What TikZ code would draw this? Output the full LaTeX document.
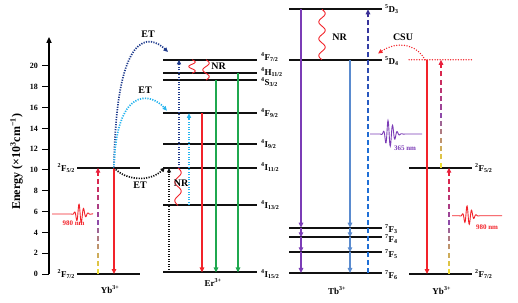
\documentclass[tikz,border=0pt]{standalone}
\usepackage{fontspec}
\setmainfont{Liberation Serif}
\usetikzlibrary{arrows.meta}
\definecolor{ink}{HTML}{111111}
\definecolor{laser}{HTML}{F2232A}
\definecolor{emgreen}{HTML}{1FA84F}
\definecolor{etnavy}{HTML}{1E3A8C}
\definecolor{etcyan}{HTML}{27B4EE}
\definecolor{tbviolet}{HTML}{7B3CB6}
\definecolor{tbblue}{HTML}{5A8BCF}
\definecolor{pumpyellow}{HTML}{EEDD33}
\definecolor{pumpviolet}{HTML}{8E4AA8}
\definecolor{pumpred}{HTML}{E8203C}
\definecolor{uvblue}{HTML}{1F6FD6}
\definecolor{uvnavy}{HTML}{3A2F96}
\tikzset{level/.style={line width=1.9pt,ink},
emit/.style={-{Triangle[length=5pt,width=4.5pt]},line width=1.8pt},
etpath/.style={-{Triangle[length=4.5pt,width=4pt]},line width=1.7pt,dash pattern=on 1.2pt off 1.3pt},
redpath/.style={laser,line width=1.5pt,line cap=round,dash pattern=on 0pt off 2.6pt},
nrline/.style={laser,line width=0.9pt},
lab/.style={font=\bfseries\fontsize{9}{10}\selectfont,inner sep=1pt},
tag/.style={font=\bfseries\fontsize{10}{11}\selectfont,inner sep=1pt},
nm/.style={font=\bfseries\fontsize{7}{8}\selectfont,inner sep=0pt}}
\newcommand\term[3]{\textsuperscript{#1}#2\textsubscript{#3}}
% dashed pump arrow with a colour run: x, from, to, bottom, middle, top colour
\newcommand\pumpline[6]{%
  \pgfmathtruncatemacro\nd{round(abs(#3-#2)*1.3)}%
  \pgfmathtruncatemacro\nm{\nd-1}%
  \foreach \i in {0,...,\nm}{%
    \pgfmathsetmacro\ya{#2+(#3-#2)*\i/\nd}%
    \pgfmathsetmacro\yb{#2+(#3-#2)*(\i+0.62)/\nd}%
    \pgfmathtruncatemacro\pa{min(100,round(200*\i/\nm))}%
    \pgfmathtruncatemacro\pb{max(0,round(200*\i/\nm)-100)}%
    \colorlet{dashc}{#6!\pb!#5!\pa!#4}%
    \draw[line width=1.8pt,dashc] (#1,\ya) -- (#1,\yb);}%
  \draw[emit,#6] (#1,#3-0.45) -- (#1,#3);}
% vertical non-radiative wave: x, top, bottom, periods
\newcommand\nrwave[4]{%
  \draw[nrline] plot[domain=0:1,samples=70,smooth] ({#1+3.2*sin(360*#4*\x)},{#2-(#2-#3)*\x});}
% photon packet: colour, x0, x1, centre, y, amplitude, tail width
\newcommand\photon[7]{%
  \draw[#1,line width=0.9pt] plot[domain=#2:#3,samples=160,smooth]
    (\x,{#5+#6*exp(-((\x-#4)/((\x<#4)*3.5+(\x>=#4)*#7))^2)*sin(360*(\x-#4)/4.6+90)});}
\begin{document}
\begin{tikzpicture}[x=1pt,y=10.4pt]
\useasboundingbox (0,-2.6923) rectangle (518,26.346);
% axis
\draw[-{Triangle[length=6pt,width=5pt]},line width=1.8pt] (49,0) -- (49,22.8);
\foreach \e in {0,2,...,20}{
  \draw[line width=1pt] (42,\e) -- (49,\e);
  \node[font=\bfseries\fontsize{8}{9}\selectfont,anchor=east,inner sep=1pt] at (39,\e) {\e};}
\node[rotate=90,font=\bfseries\fontsize{12}{13}\selectfont] (energy) at (16.5,10.8) {Energy (×10\textsuperscript{3}cm\textsuperscript{−1})};
% Yb (left)
\draw[level] (77,0) -- (140,0);
\draw[level] (77,10.22) -- (140,10.22);
\node[lab,anchor=east] (ybAg) at (76,0) {\term{2}{F}{7/2}};
\node[lab,anchor=east] (ybAe) at (76,10.22) {\term{2}{F}{5/2}};
\pumpline{98}{0}{10.22}{pumpyellow}{pumpviolet}{pumpred}
\draw[emit,laser] (114,10.22) -- (114,0);
\photon{laser}{52}{93}{79}{5.77}{0.95}{6}
\node[nm,text=laser] (nmA) at (73.5,4.9) {980 nm};
\node[lab] (ybA) at (110,-1.5) {Yb\textsuperscript{3+}};
% Er
\foreach \e in {20.6,19.3,18.65,15.45,12.5,10.2,6.6,0.15}
  \draw[level] (163,\e) -- (257,\e);
\node[lab,anchor=west] (erF72) at (260,20.85) {\term{4}{F}{7/2}};
\node[lab,anchor=west] (erH112) at (260,19.45) {\term{4}{H}{11/2}};
\node[lab,anchor=west] (erS32) at (260,18.45) {\term{4}{S}{3/2}};
\node[lab,anchor=west] (erF92) at (260,15.45) {\term{4}{F}{9/2}};
\node[lab,anchor=west] (erI92) at (260,12.5) {\term{4}{I}{9/2}};
\node[lab,anchor=west] (erI112) at (260,10.3) {\term{4}{I}{11/2}};
\node[lab,anchor=west] (erI132) at (260,6.6) {\term{4}{I}{13/2}};
\node[lab,anchor=west] (erI152) at (260,0) {\term{4}{I}{15/2}};
\draw[etpath,ink] (169,0.15) -- (169,10.2);
\draw[etpath,etnavy] (179,10.2) -- (179,20.6);
\draw[etpath,etcyan] (189,6.6) -- (189,15.45);
\draw[emit,laser] (202,15.45) -- (202,0.15);
\draw[emit,emgreen] (216,18.65) -- (216,0.15);
\draw[emit,emgreen] (238,19.3) -- (238,0.15);
\nrwave{178}{10.2}{6.6}{2}
\nrwave{192}{20.6}{19.3}{1.5}
\nrwave{206}{20.6}{18.65}{1.5}
\node[tag] (nrA) at (181,8.75) {NR};
\node[tag] (nrB) at (218.5,19.95) {NR};
\node[lab] (er) at (213,-0.85) {Er\textsuperscript{3+}};
% energy transfer Yb -> Er
\coordinate (ybup) at (114,10.22);
\coordinate (etF72) at (168,21.35);
\coordinate (etF92) at (167,15.7);
\coordinate (etI112) at (165,10.25);
\draw[etpath,etnavy] (ybup) .. controls (116,23.8) and (150,23) .. (etF72);
\draw[etpath,etcyan] (ybup) .. controls (116,18) and (150,17.5) .. (etF92);
\draw[etpath,ink] (ybup) .. controls (125,9) and (150,8.8) .. (etI112);
\node[tag] (etA) at (148,23.1) {ET};
\node[tag] (etB) at (145,17.65) {ET};
\node[tag] (etC) at (140,8.5) {ET};
% Tb
\foreach \e in {25.45,20.6,4.45,3.53,2.09,0.1}
  \draw[level] (289,\e) -- (382,\e);
\node[lab,anchor=west] (tbD3) at (384,25.5) {\term{5}{D}{3}};
\node[lab,anchor=west] (tbD4) at (384,20.5) {\term{5}{D}{4}};
\node[lab,anchor=west] (tbF3) at (384,4.3) {\term{7}{F}{3}};
\node[lab,anchor=west] (tbF4) at (384,3.35) {\term{7}{F}{4}};
\node[lab,anchor=west] (tbF5) at (384,1.95) {\term{7}{F}{5}};
\node[lab,anchor=west] (tbF6) at (384,-0.1) {\term{7}{F}{6}};
\foreach \a/\b in {25.45/4.45,4.45/3.53,3.53/2.09,2.09/0.1}
  \draw[emit,tbviolet] (301,\a) -- (301,\b);
\foreach \a/\b in {20.6/4.45,4.45/3.53,3.53/2.09,2.09/0.1}
  \draw[emit,tbblue] (350,\a) -- (350,\b);
\pumpline{368}{0.1}{25.45}{uvblue}{uvblue}{uvnavy}
\nrwave{322}{25.45}{20.6}{3}
\node[tag] (nrC) at (339.5,22.8) {NR};
\photon{tbviolet}{370}{422}{388}{13.46}{1.3}{7}
\node[nm,text=tbviolet] (nmB) at (405,12.1) {365 nm};
\node[lab] (tb) at (337,-1.62) {Tb\textsuperscript{3+}};
% Yb (right)
\draw[redpath] (409,20.6) -- (472,20.6);
\draw[level] (409,10.22) -- (472,10.22);
\draw[level] (409,0) -- (472,0);
\node[lab,anchor=west] (ybBe) at (474,10.22) {\term{2}{F}{5/2}};
\node[lab,anchor=west] (ybBg) at (474,0) {\term{2}{F}{7/2}};
\draw[emit,laser] (427,20.6) -- (427,0);
\pumpline{441}{10.22}{20.6}{pumpyellow}{pumpviolet}{pumpred}
\pumpline{449}{0}{10.22}{pumpyellow}{pumpviolet}{pumpred}
\photon{laser}{452}{502}{467}{5.6}{0.95}{6}
\node[nm,text=laser] (nmC) at (487,4.5) {980 nm};
\node[lab] (ybB) at (441.7,-1.62) {Yb\textsuperscript{3+}};
% cooperative sensitization
\coordinate (csuA) at (425,20.6);
\coordinate (csuB) at (378,21.2);
\draw[redpath,-{Triangle[length=4.5pt,width=4pt]}] (csuA) .. controls (415,22.3) and (395,22.3) .. (csuB);
\node[tag] (csu) at (403,22.75) {CSU};
\end{tikzpicture}
\end{document}
